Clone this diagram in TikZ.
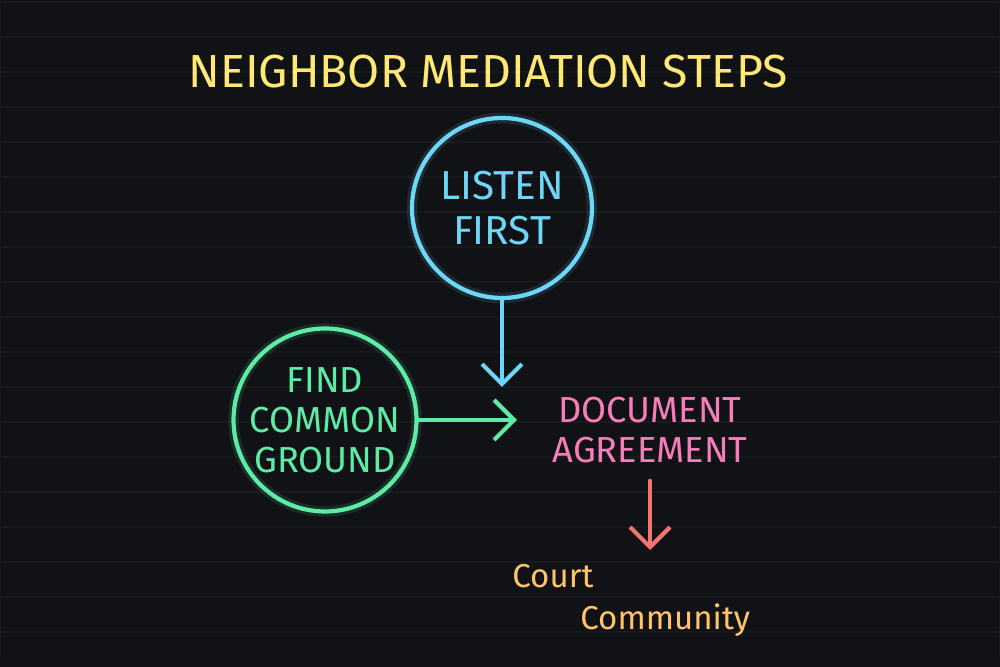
\documentclass[tikz,border=0pt]{standalone}
\usepackage{fontspec}
\setmainfont{Fira Sans}
\usetikzlibrary{arrows.meta}

\definecolor{bgdark}{HTML}{111215}
\definecolor{brickline}{HTML}{18191D}
\definecolor{neonyellow}{HTML}{FFE875}
\definecolor{neonblue}{HTML}{6ED6F7}
\definecolor{neongreen}{HTML}{5EEBA6}
\definecolor{neonpink}{HTML}{F57DBA}
\definecolor{neonred}{HTML}{F27570}
\definecolor{neonorange}{HTML}{FFC36B}

\tikzset{
  ring/.style={circle, draw=#1, text=#1, line width=2.4pt, minimum size=3.6cm,
    inner sep=0pt, align=center,
    preaction={draw=#1, line width=6pt, draw opacity=0.12}},
  flow/.style={draw=#1, line width=2.4pt, line cap=round, line join=round,
    -{Straight Barb[length=4mm, width=8mm]}},
  bigsign/.style={font=\fontsize{23}{25.6}\selectfont},
  midsign/.style={font=\fontsize{20.6}{22.8}\selectfont},
  smallsign/.style={font=\fontsize{18.8}{20}\selectfont, text=neonorange}
}

\begin{document}
\begin{tikzpicture}
  % background wall
  \useasboundingbox (0,0) rectangle (20,13.34);
  \fill[bgdark] (0,0) rectangle (20,13.34);
  \draw[xstep=20, ystep=0.7, brickline, line width=0.8pt] (0,0.2) grid (20,13.34);
  % title
  \node[text=neonyellow, font=\fontsize{26.4}{30}\selectfont] (title) at (9.76,11.9) {NEIGHBOR MEDIATION STEPS};
  % steps
  \node[ring=neonblue, bigsign] (listen) at (10.04,9.18) {LISTEN\\FIRST};
  \node[ring=neongreen, midsign] (ground) at (6.5,4.94) {FIND\\COMMON\\GROUND};
  \node[text=neonpink, midsign, align=center, inner ysep=0.35cm] (agreement) at (13.0,4.74) {DOCUMENT\\AGREEMENT};
  \node[smallsign, anchor=base west, inner sep=0pt] (court) at (10.24,1.58) {Court};
  \node[smallsign, anchor=base west, inner sep=0pt] (community) at (11.6,0.74) {Community};
  % arrows
  \coordinate (listenend) at (10.04,5.6);
  \coordinate (groundend) at (10.34,4.94);
  \coordinate (agreementend) at (12.96,2.34);
  \draw[flow=neonblue] (listen) -- (listenend);
  \draw[flow=neongreen] (ground) -- (groundend);
  \draw[flow=neonred] (agreement.south) -- (agreement.south |- agreementend);
\end{tikzpicture}
\end{document}
